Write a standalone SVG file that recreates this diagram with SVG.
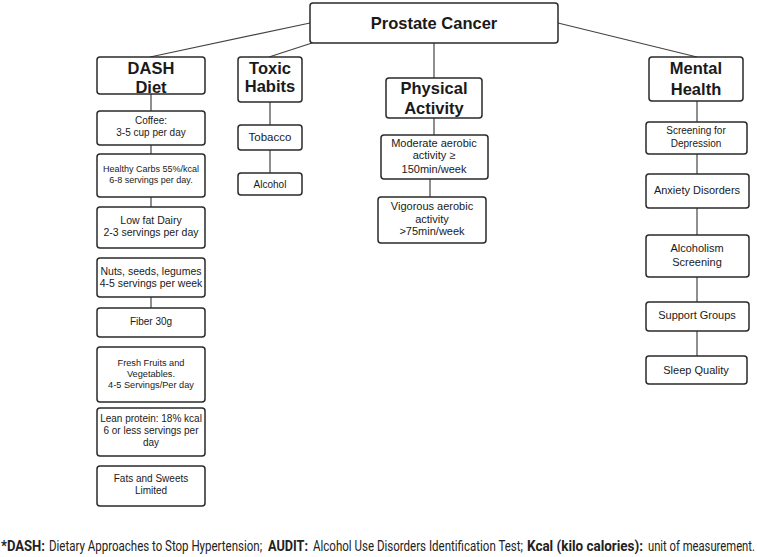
<svg xmlns="http://www.w3.org/2000/svg" width="757" height="557" viewBox="0 0 757 557">
<style>
.b{fill:#fff;stroke:#2a2a2a;stroke-width:1.5}
.c{stroke:#444;stroke-width:1.2;fill:none}
text{font-family:"Liberation Sans",Arial,sans-serif;fill:#1a1a1a;text-anchor:middle}
.h{font-weight:bold;font-size:16.5px}
.s{font-size:10px}
.m{font-size:11px}
.f{font-family:Roboto,"Liberation Sans",sans-serif;font-size:14px;text-anchor:start;fill:#222}
.fb{font-weight:bold}
</style>
<rect width="757" height="557" fill="#fff"/>
<g id="connectors">
<line class="c" x1="310" y1="23" x2="150" y2="57"/>
<line class="c" x1="312" y1="43" x2="269" y2="57"/>
<line class="c" x1="434" y1="43" x2="434" y2="78"/>
<line class="c" x1="558" y1="23" x2="697" y2="57"/>
<line class="c" x1="151" y1="94" x2="151" y2="111"/>
<line class="c" x1="151" y1="145" x2="151" y2="154"/>
<line class="c" x1="151" y1="197" x2="151" y2="207"/>
<line class="c" x1="151" y1="297" x2="151" y2="308"/>
<line class="c" x1="270" y1="102" x2="270" y2="125"/>
<line class="c" x1="270" y1="150" x2="270" y2="173"/>
<line class="c" x1="434" y1="118" x2="434" y2="135"/>
<line class="c" x1="430" y1="179" x2="430" y2="197"/>
<line class="c" x1="697" y1="101" x2="697" y2="122"/>
<line class="c" x1="697" y1="154" x2="697" y2="174"/>
<line class="c" x1="697" y1="208" x2="697" y2="235"/>
<line class="c" x1="697" y1="277" x2="697" y2="302"/>
<line class="c" x1="697" y1="331" x2="697" y2="356"/>
</g>
<g id="prostate"><rect class="b" x="310" y="3" width="248" height="40" rx="3"/><text class="h" x="434" y="29">Prostate Cancer</text></g>
<g id="dash"><rect class="b" x="97" y="57" width="108" height="37" rx="3"/><text class="h" x="151" y="74">DASH</text><text class="h" x="151" y="93">Diet</text></g>
<g id="toxic"><rect class="b" x="238" y="57" width="64" height="45" rx="3"/><text class="h" x="270" y="74">Toxic</text><text class="h" x="270" y="92">Habits</text></g>
<g id="physical"><rect class="b" x="386" y="78" width="96" height="40" rx="3"/><text class="h" x="434" y="94">Physical</text><text class="h" x="434" y="114">Activity</text></g>
<g id="mental"><rect class="b" x="649" y="57" width="94" height="44" rx="3"/><text class="h" x="696" y="74">Mental</text><text class="h" x="696" y="95">Health</text></g>
<g id="coffee"><rect class="b" x="97" y="111" width="108" height="34" rx="3"/><text class="s" x="151" y="124">Coffee:</text><text class="s" x="151" y="136">3-5 cup per day</text></g>
<g id="carbs"><rect class="b" x="97" y="154" width="108" height="43" rx="3"/><text x="151" y="172" style="font-size:9px">Healthy Carbs 55%/kcal</text><text x="151" y="183" style="font-size:9px">6-8 servings per day.</text></g>
<g id="dairy"><rect class="b" x="97" y="207" width="108" height="41" rx="3"/><text x="151" y="224" style="font-size:10.5px">Low fat Dairy</text><text x="151" y="236" style="font-size:10.5px">2-3 servings per day</text></g>
<g id="nuts"><rect class="b" x="97" y="258" width="108" height="39" rx="3"/><text x="151" y="275" style="font-size:10.5px">Nuts, seeds, legumes</text><text x="151" y="287" style="font-size:10.5px">4-5 servings per week</text></g>
<g id="fiber"><rect class="b" x="97" y="308" width="108" height="29" rx="3"/><text class="s" x="151" y="325">Fiber 30g</text></g>
<g id="fruits"><rect class="b" x="97" y="347" width="108" height="55" rx="3"/><text x="151" y="366" style="font-size:9.2px">Fresh Fruits and</text><text x="151" y="377" style="font-size:9.2px">Vegetables.</text><text x="151" y="388" style="font-size:9.2px">4-5 Servings/Per day</text></g>
<g id="protein"><rect class="b" x="97" y="408" width="108" height="48" rx="3"/><text class="s" x="151" y="422">Lean protein: 18% kcal</text><text class="s" x="151" y="434">6 or less servings per</text><text class="s" x="151" y="446">day</text></g>
<g id="fats"><rect class="b" x="97" y="466" width="108" height="40" rx="3"/><text class="s" x="151" y="482">Fats and Sweets</text><text class="s" x="151" y="494">Limited</text></g>
<g id="tobacco"><rect class="b" x="238" y="125" width="64" height="25" rx="3"/><text x="270" y="141" style="font-size:11.5px">Tobacco</text></g>
<g id="alcohol"><rect class="b" x="238" y="173" width="64" height="22" rx="3"/><text class="s" x="270" y="188">Alcohol</text></g>
<g id="moderate"><rect class="b" x="381" y="135" width="107" height="44" rx="3"/><text class="m" x="434" y="147">Moderate aerobic</text><text class="m" x="434" y="159">activity ≥</text><text class="m" x="434" y="173">150min/week</text></g>
<g id="vigorous"><rect class="b" x="378" y="197" width="108" height="46" rx="3"/><text class="m" x="432" y="210">Vigorous aerobic</text><text class="m" x="432" y="223">activity</text><text class="m" x="432" y="235">&gt;75min/week</text></g>
<g id="depression"><rect class="b" x="646" y="122" width="101" height="32" rx="3"/><text class="s" x="696" y="134">Screening for</text><text class="s" x="696" y="147">Depression</text></g>
<g id="anxiety"><rect class="b" x="646" y="174" width="103" height="34" rx="3"/><text class="m" x="697" y="194">Anxiety Disorders</text></g>
<g id="alcoholism"><rect class="b" x="646" y="235" width="103" height="42" rx="3"/><text class="m" x="697" y="252">Alcoholism</text><text class="m" x="697" y="266">Screening</text></g>
<g id="support"><rect class="b" x="646" y="302" width="103" height="29" rx="3"/><text class="m" x="697" y="319">Support Groups</text></g>
<g id="sleep"><rect class="b" x="646" y="356" width="101" height="28" rx="3"/><text class="m" x="696" y="374">Sleep Quality</text></g>
<g id="footnote" transform="scale(0.82,1)">
<text class="f fb" x="1.2" y="551" textLength="53.7" lengthAdjust="spacingAndGlyphs">*DASH:</text>
<text class="f" x="59.8" y="551" textLength="259.8" lengthAdjust="spacingAndGlyphs">Dietary Approaches to Stop Hypertension;</text>
<text class="f fb" x="326.8" y="551" textLength="48.8" lengthAdjust="spacingAndGlyphs">AUDIT:</text>
<text class="f" x="381.7" y="551" textLength="256.1" lengthAdjust="spacingAndGlyphs">Alcohol Use Disorders Identification Test;</text>
<text class="f fb" x="642.7" y="551" textLength="141.5" lengthAdjust="spacingAndGlyphs">Kcal (kilo calories):</text>
<text class="f" x="790.2" y="551" textLength="130.5" lengthAdjust="spacingAndGlyphs">unit of measurement.</text>
</g>
</svg>
